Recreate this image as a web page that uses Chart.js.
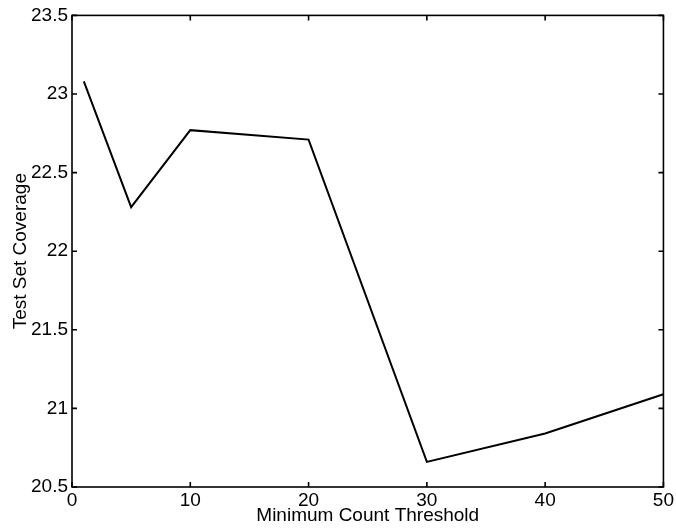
<!DOCTYPE html>
<html>
<head>
<meta charset="utf-8">
<script src="https://cdn.jsdelivr.net/npm/chart.js@4.4.1/dist/chart.umd.min.js"></script>
<style>
    html, body { margin: 0; padding: 0; background: #fff; }
    #wrap { width: 676px; height: 529px; }
</style>
</head>
<body>
<div id="wrap"><canvas id="coverageChart" width="676" height="529"></canvas></div>
<script>
const thresholds = [1, 5, 10, 20, 30, 40, 50];
const coverage = [23.08, 22.28, 22.77, 22.71, 20.66, 20.84, 21.09];
const xTicks = [0, 10, 20, 30, 40, 50];
const yTicks = [20.5, 21, 21.5, 22, 22.5, 23, 23.5];

const FONT = { family: '"Liberation Sans", Arial, sans-serif', size: 19 };

// matlab style box with inward ticks on all four sides
const boxPlugin = {
    id: 'box',
    afterDraw(chart) {
        const { ctx, chartArea: a, scales } = chart;
        const len = 5;
        ctx.save();
        ctx.strokeStyle = '#000';
        ctx.lineWidth = 1.6;
        ctx.strokeRect(a.left, a.top, a.right - a.left, a.bottom - a.top);
        ctx.beginPath();
        xTicks.forEach((v) => {
            const px = scales.x.getPixelForValue(v);
            ctx.moveTo(px, a.bottom); ctx.lineTo(px, a.bottom - len);
            ctx.moveTo(px, a.top); ctx.lineTo(px, a.top + len);
        });
        yTicks.forEach((v) => {
            const py = scales.y.getPixelForValue(v);
            ctx.moveTo(a.left, py); ctx.lineTo(a.left + len, py);
            ctx.moveTo(a.right, py); ctx.lineTo(a.right - len, py);
        });
        ctx.stroke();
        ctx.restore();
    }
};

new Chart(document.getElementById('coverageChart'), {
    type: 'line',
    data: {
        datasets: [{
            data: thresholds.map((t, i) => ({ x: t, y: coverage[i] })),
            borderColor: '#000',
            borderWidth: 2,
            pointRadius: 0,
            tension: 0,
            fill: false
        }]
    },
    options: {
        responsive: false,
        animation: false,
        layout: { padding: { top: 15, right: 12, left: 0, bottom: 0 } },
        plugins: { legend: { display: false }, tooltip: { enabled: false } },
        scales: {
            x: {
                type: 'linear',
                min: 0,
                max: 50,
                afterFit: (s) => { s.height = 42; },
                afterBuildTicks: (s) => { s.ticks = xTicks.map((v) => ({ value: v })); },
                grid: { display: false, drawTicks: false },
                border: { display: false },
                ticks: { color: '#000', font: FONT, padding: 2, maxRotation: 0,
                    callback: (v) => String(v) },
                title: { display: true, text: 'Minimum Count Threshold', color: '#000',
                    font: FONT, padding: { top: 0, bottom: 2 } }
            },
            y: {
                min: 20.5,
                max: 23.5,
                afterFit: (s) => { s.width = 72; },
                afterBuildTicks: (s) => { s.ticks = yTicks.map((v) => ({ value: v })); },
                grid: { display: false, drawTicks: false },
                border: { display: false },
                ticks: { color: '#000', font: FONT, padding: 4,
                    callback: (v) => String(v) },
                title: { display: true, text: 'Test Set Coverage', color: '#000',
                    font: FONT, padding: { top: 9, bottom: 0 } }
            }
        }
    },
    plugins: [boxPlugin]
});
</script>
</body>
</html>
